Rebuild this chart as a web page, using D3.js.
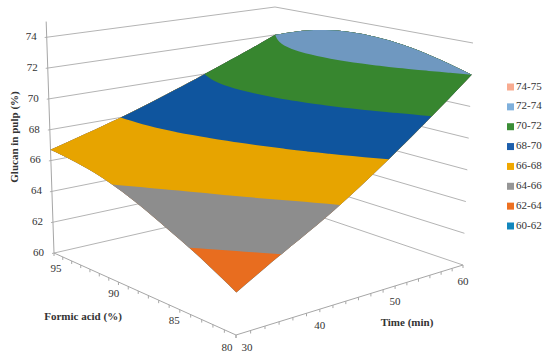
<!DOCTYPE html>
<html>
<head>
<meta charset="utf-8">
<script src="https://cdn.jsdelivr.net/npm/d3@7"></script>
<style>
  html, body { margin: 0; background: #fff; }
  text { font-family: "Liberation Serif", serif; fill: #333; }
</style>
</head>
<body>
<svg id="chart" width="550" height="359"></svg>
<script>
// Values
const timeValues = [30, 35, 40, 45, 50, 55, 60];
const formicValues = [80, 82.5, 85, 87.5, 90, 92.5, 95];
// glucan[i][j]: time i, formic acid j
const glucan = [
  [62.5, 63.7, 64.65, 65.55, 66.2, 66.55, 66.7],
  [64.05, 65.09, 65.95, 66.61, 67.09, 67.37, 67.47],
  [65.4, 66.41, 67.21, 67.8, 68.17, 68.35, 68.3],
  [67.05, 68.02, 68.75, 69.24, 69.48, 69.47, 69.22],
  [68.7, 69.66, 70.34, 70.73, 70.83, 70.63, 70.15],
  [70.4, 71.29, 71.86, 72.14, 72.09, 71.74, 71.07],
  [72, 72.72, 73.16, 73.3, 73.16, 72.72, 72]
];
const bandThresholds = [60, 62, 64, 66, 68, 70, 72, 74];
const bandLabels = ["60-62", "62-64", "64-66", "66-68", "68-70", "70-72", "72-74", "74-75"];
const surfaceColors = ["#1287bd", "#e86d1f", "#8d8d8d", "#e7a400", "#0f559e", "#37862f", "#6f98c0", "#f8ab90"];
const legendColors = ["#1287bd", "#ed7021", "#969696", "#f0a800", "#1d5fac", "#3b8e36", "#7fb0dc", "#f8ab90"];
const glucanTicks = [60, 62, 64, 66, 68, 70, 72, 74];
const timeTicks = [30, 40, 50, 60];
const formicTicks = [95, 90, 85, 80];

const svg = d3.select("#chart");

// Box corners on screen: floor (60 %) and the 74 % level
// order: (30,80) (60,80) (60,95) (30,95)
const floorQuad = [[236, 335], [463, 265], [277, 202], [54, 253]];
const topQuad = [[238, 97], [473, 43], [275, 7], [46.7, 37]];

function homography(q) {
  const [[x0, y0], [x1, y1], [x2, y2], [x3, y3]] = q;
  const dx1 = x1 - x2, dx2 = x3 - x2, sx = x0 - x1 + x2 - x3;
  const dy1 = y1 - y2, dy2 = y3 - y2, sy = y0 - y1 + y2 - y3;
  const det = dx1 * dy2 - dx2 * dy1;
  const g = (sx * dy2 - dx2 * sy) / det;
  const h = (dx1 * sy - sx * dy1) / det;
  const a = x1 - x0 + g * x1, b = x3 - x0 + h * x3;
  const d = y1 - y0 + g * y1, e = y3 - y0 + h * y3;
  return (u, v) => {
    const w = g * u + h * v + 1;
    return [(a * u + b * v + x0) / w, (d * u + e * v + y0) / w];
  };
}

const floorMap = homography(floorQuad);
const topMap = homography(topQuad);
const uScale = d3.scaleLinear().domain([30, 60]).range([0, 1]);
const vScale = d3.scaleLinear().domain([80, 95]).range([0, 1]);
const zScale = d3.scaleLinear().domain([60, 74]).range([0, 1]);

// time, formic acid, glucan -> screen
function project(t, f, z) {
  const u = uScale(t), v = vScale(f), k = zScale(z);
  const p0 = floorMap(u, v), p1 = topMap(u, v);
  return [p0[0] + (p1[0] - p0[0]) * k, p0[1] + (p1[1] - p0[1]) * k];
}

const path = d3.line();
const gridColor = "#b4b4b4";
const axisColor = "#a6a6a6";

function segment(a, b, color) {
  svg.append("path").attr("d", path([a, b])).attr("fill", "none")
    .attr("stroke", color).attr("stroke-width", 1);
}

// Wall gridlines
glucanTicks.forEach(z => {
  const left = project(30, 95, z), back = project(60, 95, z), right = project(60, 80, z);
  segment([left[0] - 2, left[1] + 0.5], back, gridColor);
  segment(back, right, gridColor);
  svg.append("text").attr("x", left[0] - 10).attr("y", left[1] + 0.5)
    .attr("text-anchor", "end").attr("dominant-baseline", "middle")
    .attr("font-size", 11).text(z);
});

// Vertical axis and floor axes
segment(project(30, 95, 60), project(30, 95, 75), axisColor);
segment(project(30, 95, 60), project(30, 80, 60), axisColor);
segment(project(30, 80, 60), project(60, 80, 60), axisColor);

d3.range(0, 19).forEach(i => {
  const pf = project(30, 95 - i * 15 / 18, 60);
  segment(pf, [pf[0], pf[1] + 3], axisColor);
  const pt = project(30 + i * 30 / 18, 80, 60);
  segment(pt, [pt[0], pt[1] + 3], axisColor);
});

formicTicks.forEach(f => {
  const p = project(30, f, 60);
  const off = f === 80 ? [-9, 13] : f === 95 ? [2, 16] : [5, 17];
  svg.append("text").attr("x", p[0] + off[0]).attr("y", p[1] + off[1])
    .attr("text-anchor", "middle").attr("dominant-baseline", "middle")
    .attr("font-size", 11).text(f);
});
timeTicks.forEach(t => {
  const p = project(t, 80, 60);
  const off = t === 30 ? [11, 13] : [0, 17];
  svg.append("text").attr("x", p[0] + off[0]).attr("y", p[1] + off[1])
    .attr("text-anchor", "middle").attr("dominant-baseline", "middle")
    .attr("font-size", 11).text(t);
});

// Refine the read grid so band edges come out smooth
const refine = 5;
const steps = d3.range(0, (timeValues.length - 1) * refine + 1);
const nx = steps.length, ny = steps.length;
const tAt = d3.scaleLinear().domain([0, nx - 1]).range(d3.extent(timeValues));
const fAt = d3.scaleLinear().domain([0, ny - 1]).range(d3.extent(formicValues));
const byTime = glucan.map(row => steps.map(s => d3.interpolateBasis(row)(s / (ny - 1))));
const dense = steps.map(j => d3.interpolateBasis(byTime.map(r => r[j])));
const flat = [];
steps.forEach(j => steps.forEach(i => flat.push(dense[j](i / (nx - 1)))));

function surfaceAt(ix, iy) {
  const x0 = Math.min(Math.floor(ix), nx - 2);
  const y0 = Math.min(Math.floor(iy), ny - 2);
  const fx = ix - x0, fy = iy - y0;
  const at = (x, y) => flat[y * nx + x];
  return d3.interpolateNumber(
    d3.interpolateNumber(at(x0, y0), at(x0 + 1, y0))(fx),
    d3.interpolateNumber(at(x0, y0 + 1), at(x0 + 1, y0 + 1))(fx)
  )(fy);
}

// Filled bands, lowest first, each one covering everything above it
const contours = d3.contours().size([nx, ny]).thresholds(bandThresholds)(flat);
contours.forEach((c, k) => {
  const d = c.coordinates.map(poly => poly.map(ring => {
    const pts = ring.map(([cx, cy]) => {
      const ix = Math.max(0, Math.min(nx - 1, cx - 0.5));
      const iy = Math.max(0, Math.min(ny - 1, cy - 0.5));
      return project(tAt(ix), fAt(iy), surfaceAt(ix, iy));
    });
    return path(pts) + "Z";
  }).join("")).join("");
  if (d) svg.append("path").attr("d", d).attr("fill", surfaceColors[k]);
});

// Axis titles
svg.append("text").attr("transform", "translate(18,137) rotate(-90)")
  .attr("text-anchor", "middle").attr("font-size", 11).attr("font-weight", "bold")
  .text("Glucan in pulp (%)");
svg.append("text").attr("x", 83).attr("y", 320)
  .attr("text-anchor", "middle").attr("font-size", 11).attr("font-weight", "bold")
  .text("Formic acid (%)");
svg.append("text").attr("x", 407).attr("y", 326)
  .attr("text-anchor", "middle").attr("font-size", 11).attr("font-weight", "bold")
  .text("Time (min)");

// Legend, top entry first
const legendY = d3.scalePoint().domain(d3.range(8)).range([87, 226]);
d3.range(8).forEach(i => {
  const idx = 7 - i;
  svg.append("rect").attr("x", 507).attr("y", legendY(i) - 3.5)
    .attr("width", 7).attr("height", 7).attr("fill", legendColors[idx]);
  svg.append("text").attr("x", 516).attr("y", legendY(i))
    .attr("dominant-baseline", "middle").attr("font-size", 11).text(bandLabels[idx]);
});
</script>
</body>
</html>
